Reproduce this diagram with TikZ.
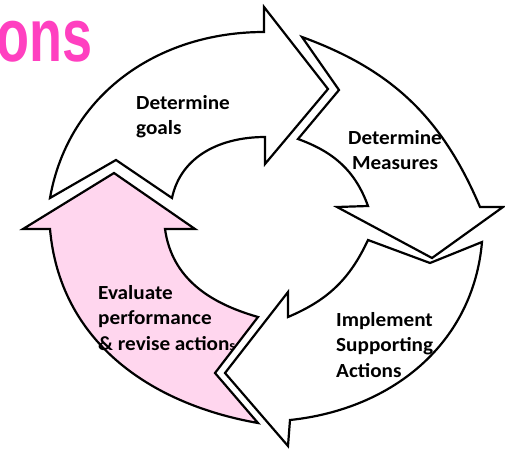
\documentclass[tikz,border=0pt]{standalone}
\usepackage{fontspec}
\setmainfont{Carlito}
\newfontfamily\titlefont{Liberation Sans}
\usepackage{tikz}

\definecolor{titlepink}{RGB}{255,64,192}
\definecolor{lightpink}{RGB}{255,214,238}

\begin{document}
\begin{tikzpicture}[x=1pt, y=1pt,
    cyclearrow/.style={draw=black, line width=2.2pt, fill=white},
    steptext/.style={font=\bfseries\fontsize{20}{25.5}\selectfont, inner sep=0pt, align=left, xscale=1.06}]
    \useasboundingbox (0,0) rectangle (505,451);
    % cut-off title
    \node[font=\titlefont\bfseries\fontsize{75}{75}\selectfont, text=titlepink, anchor=base east, inner sep=0pt, xscale=0.72] (title) at (93,390) {ons};
    % the four arrows of the cycle
    \draw[cyclearrow] (50,253) to[out=80,in=180] (264,419) -- (264,444) -- (328,362) -- (265,287) -- (265,314) to[out=180,in=78] (172,253) -- (116,291) -- cycle;
    \draw[cyclearrow] (302,414) to[out=-20,in=113] (480,244) -- (503,244) -- (432,193) -- (337,244) -- (368,245) to[out=110,in=-20] (298,312) -- (339,361) -- cycle;
    \draw[cyclearrow] (482,209) to[out=265,in=6] (290,31) -- (288,5) -- (225,78) -- (288,159) -- (288,134) to[out=23,in=245] (368,211) -- (430,188) -- cycle;
    \draw[cyclearrow, fill=lightpink] (258,28) to[out=170,in=275] (50,222) -- (23,222) -- (114,278) -- (195,222) -- (165,222) to[out=278,in=164] (258,134) -- (215,78) -- cycle;
    % step texts
    \node[steptext, anchor=north west] (goals) at (136,356) {Determine\\goals};
    \node[steptext, anchor=north, align=center] (measures) at (395,321) {Determine\\Measures};
    \node[steptext, anchor=north west] (implement) at (336,139) {Implement\\Supporting\\Actions};
    \node[steptext, anchor=north west] (evaluate) at (98,166) {Evaluate\\performance\\\& revise action{\fontsize{14}{14}\selectfont s}};
\end{tikzpicture}
\end{document}
